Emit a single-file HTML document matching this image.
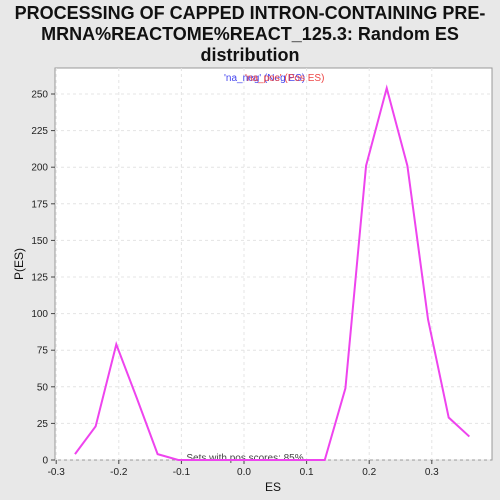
<!DOCTYPE html>
<html><head><meta charset="utf-8"><style>
html,body{margin:0;padding:0;width:500px;height:500px;overflow:hidden;background:#e8e8e8;font-family:"Liberation Sans",sans-serif}
svg{display:block}
</style></head><body>
<svg width="500" height="500" xmlns="http://www.w3.org/2000/svg">
<rect width="500" height="500" fill="#e8e8e8"/>
<text x="250" y="19" text-anchor="middle" font-size="18" font-weight="bold" fill="#111">PROCESSING OF CAPPED INTRON-CONTAINING PRE-</text>
<text x="250" y="40" text-anchor="middle" font-size="18" font-weight="bold" fill="#111">MRNA%REACTOME%REACT_125.3: Random ES</text>
<text x="250" y="61" text-anchor="middle" font-size="18" font-weight="bold" fill="#111">distribution</text>
<rect x="55" y="68" width="437" height="392" fill="#fff" stroke="#999"/>
<g id="grid"></g><g id="axes"></g>
<text x="224" y="81" font-size="10" fill="#4444ee">'na_neg' (Neg ES)</text>
<text x="245" y="81" font-size="10" fill="#ee4444">'na_pos' (Pos ES)</text>
<text x="245" y="461" text-anchor="middle" font-size="10" fill="#444">Sets with pos scores: 85%</text>
<text x="273" y="491" text-anchor="middle" font-size="12" fill="#111">ES</text>
<text x="23" y="264" text-anchor="middle" font-size="12" fill="#111" transform="rotate(-90 23 264)">P(ES)</text>
<polyline id="line" fill="none" stroke="#ee44ee" stroke-width="2"/>
</svg>
<script>
const esValues=[-0.27,-0.237,-0.204,-0.171,-0.138,-0.105,0.129,0.162,0.195,0.228,0.261,0.294,0.327,0.36];
const densityValues=[4,23,79,42,4,0,0,49,201,254,201,96,29,16];
const xTicks=[-0.3,-0.2,-0.1,0.0,0.1,0.2,0.3];
const xTickLabels=["-0.3","-0.2","-0.1","0.0","0.1","0.2","0.3"];
const yTicks=[0,25,50,75,100,125,150,175,200,225,250];
const xs=v=>244+v*626, ys=v=>460-v*1.464;
const NS="http://www.w3.org/2000/svg";
const grid=document.getElementById('grid'),axes=document.getElementById('axes');
function mk(tag,attrs,parent,text){const e=document.createElementNS(NS,tag);for(const k in attrs)e.setAttribute(k,attrs[k]);if(text!==undefined)e.textContent=text;parent.appendChild(e);return e;}
xTicks.forEach((t,i)=>{const x=xs(t);
const g=mk('line',{x1:x,x2:x,y1:68,y2:460,stroke:'#e4e4e4','stroke-dasharray':'3,3'},grid);


mk('line',{x1:x,x2:x,y1:460,y2:464,stroke:'#444'},axes);
const l=mk('text',{x:x,y:475,'text-anchor':'middle','font-size':10,fill:'#222'},axes,xTickLabels[i]);

});
yTicks.forEach(t=>{const y=ys(t);
const g=mk('line',{x1:55,x2:492,y1:y,y2:y,stroke:'#e4e4e4','stroke-dasharray':'3,3'},grid);


mk('line',{x1:51,x2:55,y1:y,y2:y,stroke:'#444'},axes);
const l=mk('text',{x:48,y:y+3.5,'text-anchor':'end','font-size':10,fill:'#222'},axes,String(t));

});
document.getElementById('line').setAttribute('points',esValues.map((v,i)=>xs(v)+','+ys(densityValues[i])).join(' '));
</script>
</body></html>
